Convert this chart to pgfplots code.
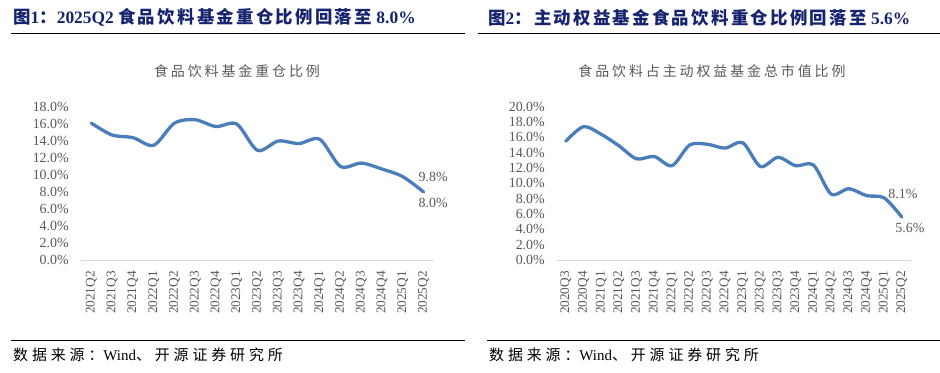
\documentclass[border=0pt]{standalone}
\usepackage{fontspec}
\usepackage{pgfplots}
\pgfplotsset{compat=1.18}
\setmainfont{Liberation Serif}
\newfontfamily\cjk{Noto Sans CJK SC}
\newfontfamily\cjkb[LetterSpace=13]{Noto Sans CJK SC}
\newfontfamily\cjkt[LetterSpace=21]{Noto Sans CJK SC}
\newfontfamily\cjks[LetterSpace=26]{Noto Sans CJK SC}
\definecolor{navy}{RGB}{22,36,112}
\definecolor{lineblue}{RGB}{74,126,187}
\definecolor{labelgray}{RGB}{89,89,89}
\definecolor{axisgray}{RGB}{217,217,217}
\pgfplotsset{
  mychart/.style={
    scale only axis, clip=false,
    axis lines*=left,
    y axis line style={draw=none},
    x axis line style={draw=axisgray, line width=1bp},
    major tick length=0pt,
    ymin=0,
    xtick=data,
    xticklabel style={font=\fontsize{13.3}{13.3}\selectfont, text=labelgray, yshift=-11bp, rotate=90, anchor=east, inner sep=0pt},
    yticklabel style={font=\fontsize{14}{14}\selectfont, text=labelgray, xshift=-12bp, anchor=east, inner sep=0pt},
    /pgf/number format/.cd, fixed, fixed zerofill, precision=1, assume math mode=true,
    /pgfplots/.cd,
    yticklabel={\pgfmathprintnumber{\tick}\%},
  },
  myline/.style={draw=lineblue, line width=3.3bp, smooth, tension=0.5, no markers, line cap=round, line join=round},
}
\begin{document}
\begin{tikzpicture}
\path[use as bounding box] (0,0) rectangle (940bp,-373bp);
% header titles
\node[anchor=west, inner sep=0pt, text=navy, font=\fontsize{17.5}{17.5}\selectfont\bfseries] at (13bp,-17.5bp)
  {{\cjkb\bfseries 图}1{\cjkb\bfseries ：}2025Q2 {\cjkb\bfseries 食品饮料基金重仓比例回落至} 8.0\%};
\node[anchor=west, inner sep=0pt, text=navy, font=\fontsize{17.5}{17.5}\selectfont\bfseries] at (488bp,-17.5bp)
  {{\cjkb\bfseries 图}2{\cjkb\bfseries ：主动权益基金食品饮料重仓比例回落至} 5.6\%};
\draw[black, line width=1bp] (11bp,-33bp) -- (465bp,-33bp);
\draw[black, line width=1bp] (478bp,-33bp) -- (940bp,-33bp);
\draw[black, line width=1bp] (11bp,-340bp) -- (465bp,-340bp);
\draw[black, line width=1bp] (487bp,-340bp) -- (940bp,-340bp);
\node[anchor=west, inner sep=0pt, font=\fontsize{15}{15}\selectfont] at (13bp,-355bp)
  {{\cjks 数据来源：}Wind{\cjks 、开源证券研究所}};
\node[anchor=west, inner sep=0pt, font=\fontsize{15}{15}\selectfont] at (489bp,-355bp)
  {{\cjks 数据来源：}Wind{\cjks 、开源证券研究所}};
% chart titles
\node[text=labelgray, font=\fontsize{14}{14}\selectfont\cjkt, inner sep=0pt] at (237bp,-71bp) {食品饮料基金重仓比例};
\node[text=labelgray, font=\fontsize{14}{14}\selectfont\cjkt, inner sep=0pt] at (712bp,-71bp) {食品饮料占主动权益基金总市值比例};

\begin{axis}[mychart,
  at={(81bp,-260bp)}, anchor=south west,
  width=353bp, height=153bp,
  xmin=-0.5, xmax=16.5, ymax=18,
  ytick={0,2,...,18},
  xticklabels={2021Q2,2021Q3,2021Q4,2022Q1,2022Q2,2022Q3,2022Q4,2023Q1,2023Q2,2023Q3,2023Q4,2024Q1,2024Q2,2024Q3,2024Q4,2025Q1,2025Q2},
]
\addplot[myline] coordinates {
(0,16.1) (1,14.7) (2,14.4) (3,13.5) (4,16.1) (5,16.5) (6,15.7) (7,16.0) (8,12.9)
(9,14.0) (10,13.7) (11,14.2) (12,11.0) (13,11.4) (14,10.7) (15,9.8) (16,8.0)};
\node[font=\fontsize{14}{14}\selectfont, text=labelgray] at (axis cs:16.46,9.76) {9.8\%};
\node[font=\fontsize{14}{14}\selectfont, text=labelgray] at (axis cs:16.46,6.7) {8.0\%};
\end{axis}

\begin{axis}[mychart,
  at={(557bp,-260bp)}, anchor=south west,
  width=353.7bp, height=153.3bp,
  xmin=-0.5, xmax=19.5, ymax=20,
  ytick={0,2,...,20},
  xticklabels={2020Q3,2020Q4,2021Q1,2021Q2,2021Q3,2021Q4,2022Q1,2022Q2,2022Q3,2022Q4,2023Q1,2023Q2,2023Q3,2023Q4,2024Q1,2024Q2,2024Q3,2024Q4,2025Q1,2025Q2},
]
\addplot[myline] coordinates {
(0,15.5) (1,17.4) (2,16.4) (3,14.9) (4,13.2) (5,13.5) (6,12.3) (7,15.0) (8,15.1) (9,14.6)
(10,15.3) (11,12.2) (12,13.4) (13,12.3) (14,12.4) (15,8.6) (16,9.3) (17,8.4) (18,8.1) (19,5.6)};
\node[font=\fontsize{14}{14}\selectfont, text=labelgray] at (axis cs:19.06,8.6) {8.1\%};
\node[font=\fontsize{14}{14}\selectfont, text=labelgray] at (axis cs:19.46,4.17) {5.6\%};
\end{axis}
\end{tikzpicture}
\end{document}
